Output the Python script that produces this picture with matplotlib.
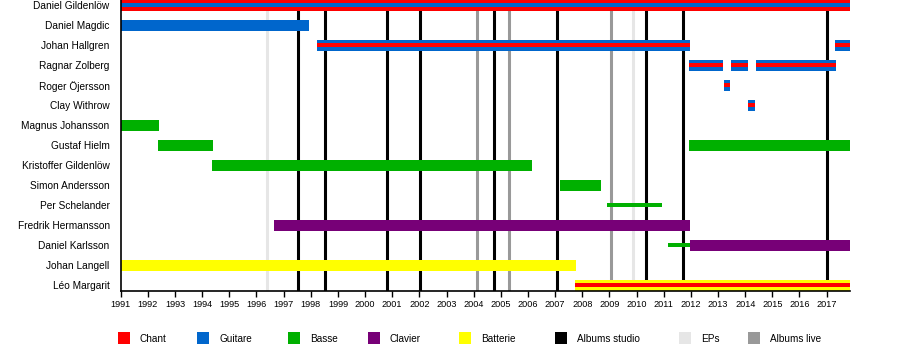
import matplotlib
matplotlib.use("Agg")
import matplotlib.pyplot as plt
from matplotlib.patches import Rectangle

plt.rcParams['font.family'] = ['Liberation Sans', 'DejaVu Sans']

members = ["Daniel Gildenlöw", "Daniel Magdic", "Johan Hallgren", "Ragnar Zolberg",
           "Roger Öjersson", "Clay Withrow", "Magnus Johansson", "Gustaf Hielm",
           "Kristoffer Gildenlöw", "Simon Andersson", "Per Schelander",
           "Fredrik Hermansson", "Daniel Karlsson", "Johan Langell", "Léo Margarit"]

END = 2017.86
START = 1991

# bars: member, start, end, main role, inner role (or None), thin flag
bar_member = ["Daniel Gildenlöw", "Daniel Magdic", "Johan Hallgren", "Johan Hallgren",
              "Ragnar Zolberg", "Ragnar Zolberg", "Ragnar Zolberg", "Roger Öjersson",
              "Clay Withrow", "Magnus Johansson", "Gustaf Hielm", "Gustaf Hielm",
              "Kristoffer Gildenlöw", "Simon Andersson", "Per Schelander",
              "Fredrik Hermansson", "Daniel Karlsson", "Daniel Karlsson",
              "Johan Langell", "Léo Margarit"]
bar_start = [1991.0, 1991.0, 1998.23, 2017.31,
             2011.93, 2013.48, 2014.40, 2013.22,
             2014.10, 1991.0, 1992.38, 2011.93,
             1994.36, 2007.18, 2008.91,
             1996.65, 2011.16, 2011.97,
             1991.0, 2007.73]
bar_end = [END, 1997.92, 2011.97, END,
           2013.18, 2014.09, 2017.33, 2013.44,
           2014.35, 1992.41, 1994.39, END,
           2006.15, 2008.69, 2010.94,
           2011.97, 2011.97, END,
           2007.76, END]
bar_role = ["Chant", "Guitare", "Guitare", "Guitare",
            "Guitare", "Guitare", "Guitare", "Guitare",
            "Guitare", "Basse", "Basse", "Basse",
            "Basse", "Basse", "Basse",
            "Clavier", "Basse", "Clavier",
            "Batterie", "Batterie"]
bar_inner = ["Guitare", None, "Chant", "Chant",
             "Chant", "Chant", "Chant", "Chant",
             "Chant", None, None, None,
             None, None, None,
             None, None, None,
             None, "Chant"]
bar_thin = [False, False, False, False,
            False, False, False, False,
            False, False, False, False,
            False, False, True,
            False, True, False,
            False, False]

studio_albums = [1997.54, 1998.52, 2000.82, 2002.02, 2004.76, 2007.08, 2010.36, 2011.72, 2017.03]
live_albums = [2004.13, 2005.31, 2009.07]
eps = [1996.39, 2009.87]

years = list(range(1991, 2018))

legend_labels = ["Chant", "Guitare", "Basse", "Clavier", "Batterie", "Albums studio", "EPs", "Albums live"]
legend_x = [118, 197, 288, 368, 459, 555, 679, 748]  # pixel layout

colors = {"Chant": "#FF0000", "Guitare": "#0066CC", "Basse": "#00B000",
          "Clavier": "#770077", "Batterie": "#FFFF00",
          "Albums studio": "#000000", "EPs": "#E6E6E6", "Albums live": "#999999"}

W, H = 900, 350
fig = plt.figure(figsize=(9, 3.5), dpi=100)
ax = fig.add_axes([120.7 / W, 1 - 290.7 / H, (850 - 120.7) / W, 290.7 / H])

ax.set_xlim(START, END)
ax.set_ylim(len(members) - 1 + 0.27, -0.265)

lw = 2.2
for x in eps:
    ax.axvline(x, color=colors["EPs"], lw=lw, zorder=1)
for x in live_albums:
    ax.axvline(x, color=colors["Albums live"], lw=lw, zorder=1)
for x in studio_albums:
    ax.axvline(x, color=colors["Albums studio"], lw=lw, zorder=1)

row = {m: i for i, m in enumerate(members)}
full_h = 0.53
inner_h = 0.19
thin_h = 0.2
for m, s, e, r, inn, thin in zip(bar_member, bar_start, bar_end, bar_role, bar_inner, bar_thin):
    y = row[m]
    h = thin_h if thin else full_h
    ax.barh(y, e - s, left=s, height=h, color=colors[r], zorder=3, linewidth=0)
    if inn:
        ax.barh(y, e - s, left=s, height=inner_h, color=colors[inn], zorder=4, linewidth=0)

ax.set_yticks(range(len(members)))
ax.set_yticklabels(members, fontsize=7.3)
ax.tick_params(axis='y', length=0, pad=7.9)
ax.set_xticks(years)
ax.set_xticklabels([str(y) for y in years], fontsize=6.6)
ax.tick_params(axis='x', length=4.5, width=1, pad=2.5, direction='out')

for s in ["top", "right"]:
    ax.spines[s].set_visible(False)
for s in ["left", "bottom"]:
    ax.spines[s].set_linewidth(1.2)
    ax.spines[s].set_zorder(5)

# legend
for lab, px in zip(legend_labels, legend_x):
    fig.patches.append(Rectangle((px / W, 1 - 344 / H), 12 / W, 12 / H,
                                 transform=fig.transFigure, color=colors[lab], linewidth=0))
    fig.text((px + 22) / W, 1 - 339 / H, lab, fontsize=7.2, va='center', ha='left')

fig.savefig("out.png", dpi=100)
